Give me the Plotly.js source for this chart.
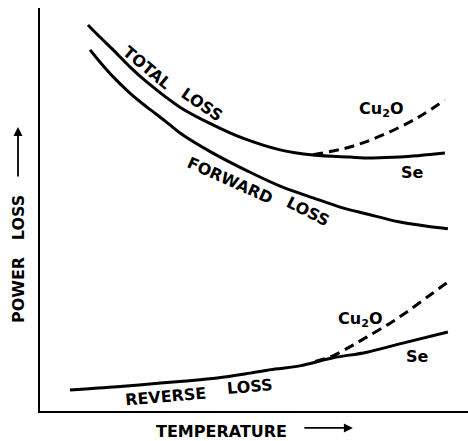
<!DOCTYPE html>
<html>
<head>
<meta charset="utf-8">
<script src="https://cdn.plot.ly/plotly-3.0.1.min.js"></script>
<style>html,body{margin:0;padding:0;background:#fff;}#chart{width:468px;height:441px;}</style>
</head>
<body>
<div id="chart"></div>
<script>
// Arbitrary units: temperature 0..100, power loss 0..100
const totalSeX = [11.2, 14.0, 17.1, 21.0, 25.0, 32.7, 40.4, 47.4, 56.1, 63.8, 72.4, 77.1, 84.1, 94.6];
const totalSeY = [95.8, 92.8, 89.6, 85.4, 81.6, 75.4, 71.0, 67.7, 64.8, 63.5, 63.0, 62.8, 63.0, 64.0];

const totalCuX = [63.8, 72.4, 80.1, 88.1, 94.6];
const totalCuY = [63.6, 65.5, 68.5, 72.7, 77.2];

const forwardX = [11.7, 14.0, 17.1, 21.0, 25.0, 29.2, 32.7, 40.4, 48.4, 56.1, 63.8, 70.1, 76.4, 84.1, 95.3];
const forwardY = [89.6, 86.6, 82.9, 78.9, 75.4, 72.0, 69.0, 64.0, 59.6, 55.8, 52.9, 50.6, 48.9, 46.9, 45.2];

const reverseSeX = [7.0, 18.0, 25.7, 33.4, 41.4, 49.1, 54.9, 60.7, 68.5, 76.4, 85.7, 95.3];
const reverseSeY = [5.2, 6.0, 6.7, 7.4, 8.2, 9.4, 10.4, 11.2, 13.2, 14.6, 17.1, 19.6];

const reverseCuX = [64.3, 67.8, 72.4, 76.4, 81.8, 86.4, 91.8, 95.3];
const reverseCuY = [12.3, 13.4, 15.9, 18.4, 21.8, 25.1, 29.3, 32.0];

const FONT = {family: 'DejaVu Sans, sans-serif', size: 16, color: '#000', weight: 'bold'};
const solid = {color: '#000', width: 3, shape: 'spline'};
const dashed = {color: '#000', width: 3, dash: '10px,6px', shape: 'spline'};

const traces = [
  {x: totalSeX, y: totalSeY, mode: 'lines', line: solid},
  {x: totalCuX, y: totalCuY, mode: 'lines', line: dashed},
  {x: forwardX, y: forwardY, mode: 'lines', line: solid},
  {x: reverseSeX, y: reverseSeY, mode: 'lines', line: solid},
  {x: reverseCuX, y: reverseCuY, mode: 'lines', line: dashed}
];

function lab(text, x, y, angle) {
  return {text: '<b>' + text + '</b>', x: x, y: y, xref: 'x', yref: 'y', showarrow: false,
          xanchor: 'center', yanchor: 'middle', textangle: angle || 0, font: FONT};
}
function plab(text, x, y, angle) {
  return {text: '<b>' + text + '</b>', x: x, y: y, xref: 'paper', yref: 'paper', showarrow: false,
          xanchor: 'center', yanchor: 'middle', textangle: angle || 0, font: FONT};
}

const annotations = [
  lab('TOTAL', 25.0, 85.3, 40),
  lab('LOSS', 37.8, 76.0, 34),
  lab('FORWARD', 44.4, 57.1, 24),
  lab('LOSS', 62.6, 49.4, 27),
  lab('Cu<sub>2</sub>O', 79.7, 74.7),
  lab('Se', 87.1, 59.3),
  lab('Cu<sub>2</sub>O', 74.8, 22.8),
  lab('Se', 88.3, 13.6),
  lab('REVERSE', 29.4, 3.7, -5),
  lab('LOSS', 49.1, 6.2, -5),
  plab('POWER', -0.0514, 0.300, -90),
  plab('LOSS', -0.0514, 0.481, -90),
  plab('TEMPERATURE', 0.423, -0.052, 0),
  {text: '', x: -0.0514, y: 0.705, xref: 'paper', yref: 'paper', showarrow: true,
   ax: 0, ay: 51, arrowhead: 2, arrowsize: 1, arrowwidth: 1.8, arrowcolor: '#000'},
  {text: '', x: 0.731, y: -0.042, xref: 'paper', yref: 'paper', showarrow: true,
   ax: -50, ay: 0, arrowhead: 2, arrowsize: 1, arrowwidth: 1.8, arrowcolor: '#000'}
];

const layout = {
  width: 468, height: 441,
  margin: {l: 40, r: 0, t: 8, b: 30},
  paper_bgcolor: '#fff', plot_bgcolor: '#fff',
  showlegend: false,
  xaxis: {range: [0, 100], showline: true, linecolor: '#000', linewidth: 2, showgrid: false,
          zeroline: false, showticklabels: false, ticks: '', fixedrange: true},
  yaxis: {range: [0, 100], showline: true, linecolor: '#000', linewidth: 2, showgrid: false,
          zeroline: false, showticklabels: false, ticks: '', fixedrange: true},
  annotations: annotations
};

Plotly.newPlot('chart', traces, layout, {displayModeBar: false, staticPlot: true});
</script>
</body>
</html>
